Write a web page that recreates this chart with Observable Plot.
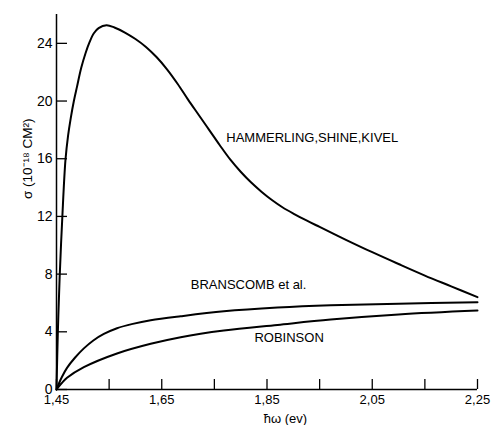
<!DOCTYPE html>
<html><head><meta charset="utf-8">
<script src="https://cdn.jsdelivr.net/npm/d3@7"></script>
<script src="https://cdn.jsdelivr.net/npm/@observablehq/plot@0.6"></script>
<style>body{margin:0;background:#fff}</style>
</head><body><div id="chart"></div>
<script>
// Tick values
const xTicks = [1.45, 1.55, 1.65, 1.75, 1.85, 1.95, 2.05, 2.15, 2.25];
const xTickLabels = [1.45, 1.65, 1.85, 2.05, 2.25];
const yTicks = [0, 4, 8, 12, 16, 20, 24];

// Series: Hammerling, Shine, Kivel
const hammerlingX = [1.45, 1.4525, 1.456, 1.461, 1.467, 1.472, 1.477, 1.483, 1.489, 1.497, 1.505, 1.513, 1.521, 1.530, 1.545, 1.56, 1.58, 1.60, 1.62, 1.64, 1.66, 1.68, 1.70, 1.72, 1.74, 1.76, 1.78, 1.80, 1.82, 1.84, 1.86, 1.88, 1.90, 1.925, 1.95, 2.00, 2.05, 2.10, 2.15, 2.20, 2.25];
const hammerlingY = [0, 3.9, 7.8, 11.9, 15.9, 17.6, 18.8, 20.0, 21.0, 22.3, 23.3, 24.1, 24.7, 25.05, 25.25, 25.1, 24.75, 24.3, 23.75, 23.05, 22.2, 21.2, 20.1, 19.05, 18.0, 16.95, 15.95, 15.1, 14.35, 13.7, 13.12, 12.62, 12.2, 11.72, 11.27, 10.38, 9.52, 8.7, 7.9, 7.15, 6.4];

// Series: Branscomb et al.
const branscombX = [1.45, 1.455, 1.46, 1.47, 1.485, 1.502, 1.52, 1.54, 1.565, 1.595, 1.629, 1.686, 1.768, 1.870, 1.971, 2.10, 2.25];
const branscombY = [0, 0.45, 0.85, 1.5, 2.2, 2.85, 3.4, 3.85, 4.25, 4.55, 4.8, 5.08, 5.42, 5.68, 5.84, 5.95, 6.05];

// Series: Robinson
const robinsonX = [1.45, 1.46, 1.47, 1.502, 1.565, 1.629, 1.686, 1.768, 1.870, 1.971, 2.10, 2.25];
const robinsonY = [0, 0.45, 0.81, 1.55, 2.5, 3.17, 3.63, 4.09, 4.48, 4.85, 5.2, 5.47];

// Curve annotations
const curveLabelText = ["HAMMERLING,SHINE,KIVEL", "BRANSCOMB et al.", "ROBINSON"];
const curveLabelX = [1.936, 1.815, 1.892];
const curveLabelY = [17.46, 7.28, 3.6];

const xTitle = "ħω (ev)";
const yTitle = "σ (10⁻¹⁸ CM²)";

const rows = [
  ...hammerlingX.map((x, i) => ({series: "HSK", x, y: hammerlingY[i]})),
  ...branscombX.map((x, i) => ({series: "Branscomb", x, y: branscombY[i]})),
  ...robinsonX.map((x, i) => ({series: "Robinson", x, y: robinsonY[i]}))
];
const labels = curveLabelText.map((text, i) => ({text, x: curveLabelX[i], y: curveLabelY[i]}));
const fmt = d => d.toFixed(2).replace(".", ",");

const chart = Plot.plot({
  width: 495, height: 425,
  marginLeft: 56, marginRight: 18, marginTop: 14, marginBottom: 36,
  style: {fontFamily: "'Liberation Sans', Arial, sans-serif", fontSize: "13px", background: "#fff", color: "#000"},
  x: {domain: [1.45, 2.25]},
  y: {domain: [0, 26]},
  marks: [
    Plot.axisX(xTicks, {tickSize: 10, dy: -10, fill: "none", label: null, strokeWidth: 1.3}),
    Plot.axisX(xTickLabels, {tickSize: 0, tickPadding: 5, tickFormat: fmt, label: null}),
    Plot.axisY(yTicks, {tickSize: 11, dx: 11, fill: "none", label: null, strokeWidth: 1.3}),
    Plot.axisY(yTicks, {tickSize: 0, tickPadding: 4, label: null, fontSize: 14}),
    Plot.ruleX([1.45], {strokeWidth: 1.5}),
    Plot.ruleY([0], {strokeWidth: 1.5}),
    Plot.line(rows, {x: "x", y: "y", z: "series", curve: "catmull-rom", stroke: "#000", strokeWidth: 2}),
    Plot.text(labels, {x: "x", y: "y", text: "text", fontSize: 13, fill: "#000"}),
    Plot.text([xTitle], {x: [1.885], frameAnchor: "bottom", dy: 33, fontSize: 13, fill: "#000"}),
    Plot.text([yTitle], {y: [16], frameAnchor: "left", textAnchor: "middle", dx: -29, rotate: -90, fontSize: 13.5, fill: "#000"})
  ]
});
document.getElementById("chart").appendChild(chart);
</script>
</body></html>
